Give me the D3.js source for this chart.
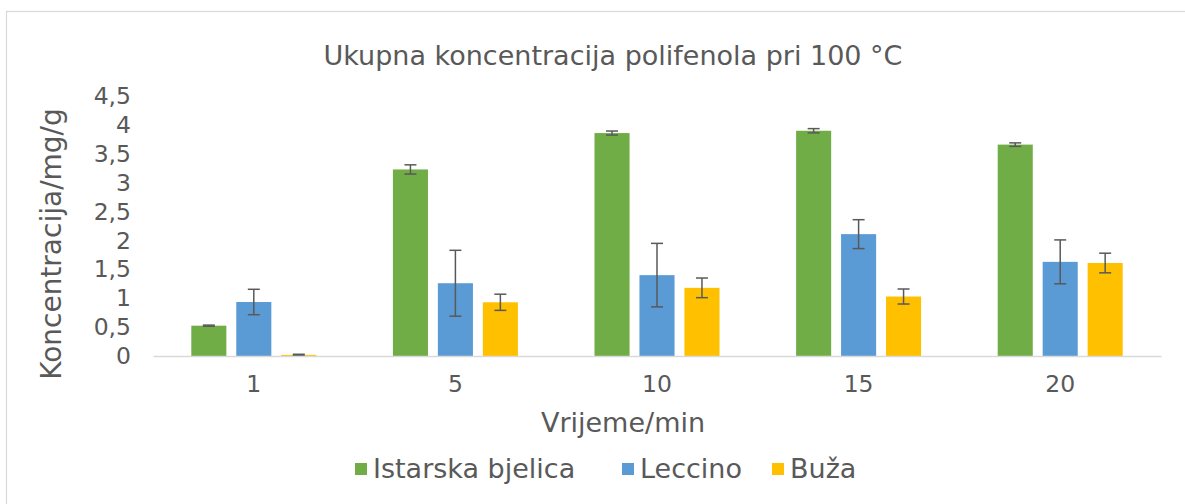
<!DOCTYPE html>
<html>
<head>
<meta charset="utf-8">
<script src="https://cdn.jsdelivr.net/npm/d3@7"></script>
<style>
  body { margin: 0; background: #fff; }
  text { font-family: "DejaVu Sans", Verdana, sans-serif; fill: #595959; }
</style>
</head>
<body>
<div id="chart"></div>
<script>
const categories = ["1", "5", "10", "15", "20"];
const seriesNames = ["Istarska bjelica", "Leccino", "Buža"];
const seriesColors = ["#70AD47", "#5B9BD5", "#FFC000"];

// mean values per series, one per category
const istarska = [0.525, 3.23, 3.86, 3.90, 3.66];
const leccino = [0.935, 1.26, 1.40, 2.11, 1.63];
const buza = [0.02, 0.93, 1.18, 1.03, 1.61];

// error bar (± value)
const istarskaErr = [0.01, 0.08, 0.035, 0.037, 0.03];
const leccinoErr = [0.22, 0.57, 0.55, 0.25, 0.38];
const buzaErr = [0.01, 0.14, 0.17, 0.13, 0.17];

const yTicks = [0, 0.5, 1, 1.5, 2, 2.5, 3, 3.5, 4, 4.5];

const W = 1185, H = 504;
const plot = {left: 153, right: 1161, top: 96.1, bottom: 356};

const svg = d3.select("#chart").append("svg")
    .attr("width", W)
    .attr("height", H);

// chart border
svg.append("rect")
    .attr("x", 6.5).attr("y", 11.5)
    .attr("width", W + 20).attr("height", H + 20)
    .attr("fill", "#fff")
    .attr("stroke", "#d9d9d9")
    .attr("stroke-width", 1.2);

svg.append("text")
    .attr("x", 613)
    .attr("y", 65)
    .attr("text-anchor", "middle")
    .attr("font-size", "27px")
    .text("Ukupna koncentracija polifenola pri 100 °C");

const series = [istarska, leccino, buza];
const errs = [istarskaErr, leccinoErr, buzaErr];

const x0 = d3.scaleBand()
    .domain(categories)
    .range([plot.left, plot.right])
    .padding(0);

const groupW = 125;
const x1 = d3.scaleBand()
    .domain(d3.range(seriesNames.length))
    .range([0, groupW])
    .paddingInner(0.22)
    .paddingOuter(0);

const y = d3.scaleLinear()
    .domain([0, 4.5])
    .range([plot.bottom, plot.top]);

// y axis labels (no line, no ticks)
const yAxis = svg.append("g")
    .attr("transform", `translate(${plot.left - 22},0)`)
    .call(d3.axisLeft(y).tickValues(yTicks).tickSize(0).tickPadding(0)
        .tickFormat(d => String(d).replace(".", ",")));
yAxis.select(".domain").remove();
yAxis.selectAll("text")
    .attr("font-size", "23.5px")
    .attr("font-family", "DejaVu Sans")
    .attr("fill", "#595959");

// bars
const groups = svg.append("g").selectAll("g")
    .data(categories)
    .join("g")
    .attr("transform", c => `translate(${x0(c) + (x0.bandwidth() - groupW) / 2},0)`);

groups.each(function(c, ci) {
    const g = d3.select(this);
    series.forEach((vals, si) => {
        const v = vals[ci];
        const e = errs[si][ci];
        const cx = x1(si) + x1.bandwidth() / 2;
        g.append("rect")
            .attr("x", x1(si))
            .attr("y", y(v))
            .attr("width", x1.bandwidth())
            .attr("height", y(0) - y(v))
            .attr("fill", seriesColors[si]);
        g.append("line")
            .attr("x1", cx).attr("x2", cx)
            .attr("y1", y(v + e)).attr("y2", y(Math.max(0, v - e)))
            .attr("stroke", "#595959").attr("stroke-width", 1.5);
        [v + e, Math.max(0, v - e)].forEach(t => {
            g.append("line")
                .attr("x1", cx - 6).attr("x2", cx + 6)
                .attr("y1", y(t)).attr("y2", y(t))
                .attr("stroke", "#595959").attr("stroke-width", 1.5);
        });
    });
});

// x axis
const xAxis = svg.append("g")
    .attr("transform", `translate(0,${plot.bottom})`)
    .call(d3.axisBottom(x0).tickSize(0).tickPadding(0));
xAxis.select(".domain")
    .attr("stroke", "#d9d9d9")
    .attr("stroke-width", 1.5);
xAxis.selectAll("text")
    .attr("dy", "1.55em")
    .attr("font-size", "23.5px")
    .attr("font-family", "DejaVu Sans")
    .attr("fill", "#595959");

svg.append("text")
    .attr("x", 623)
    .attr("y", 432)
    .attr("text-anchor", "middle")
    .attr("font-size", "27px")
    .text("Vrijeme/min");

svg.append("text")
    .attr("transform", "translate(61,244) rotate(-90)")
    .attr("text-anchor", "middle")
    .attr("font-size", "28px")
    .text("Koncentracija/mg/g");

// legend
const legendX = [355, 622, 772];
const legend = svg.append("g");
seriesNames.forEach((name, i) => {
    legend.append("rect")
        .attr("x", legendX[i])
        .attr("y", 463)
        .attr("width", 12)
        .attr("height", 12)
        .attr("fill", seriesColors[i]);
    legend.append("text")
        .attr("x", legendX[i] + 18)
        .attr("y", 478)
        .attr("font-size", "27px")
        .text(name);
});
</script>
</body>
</html>
